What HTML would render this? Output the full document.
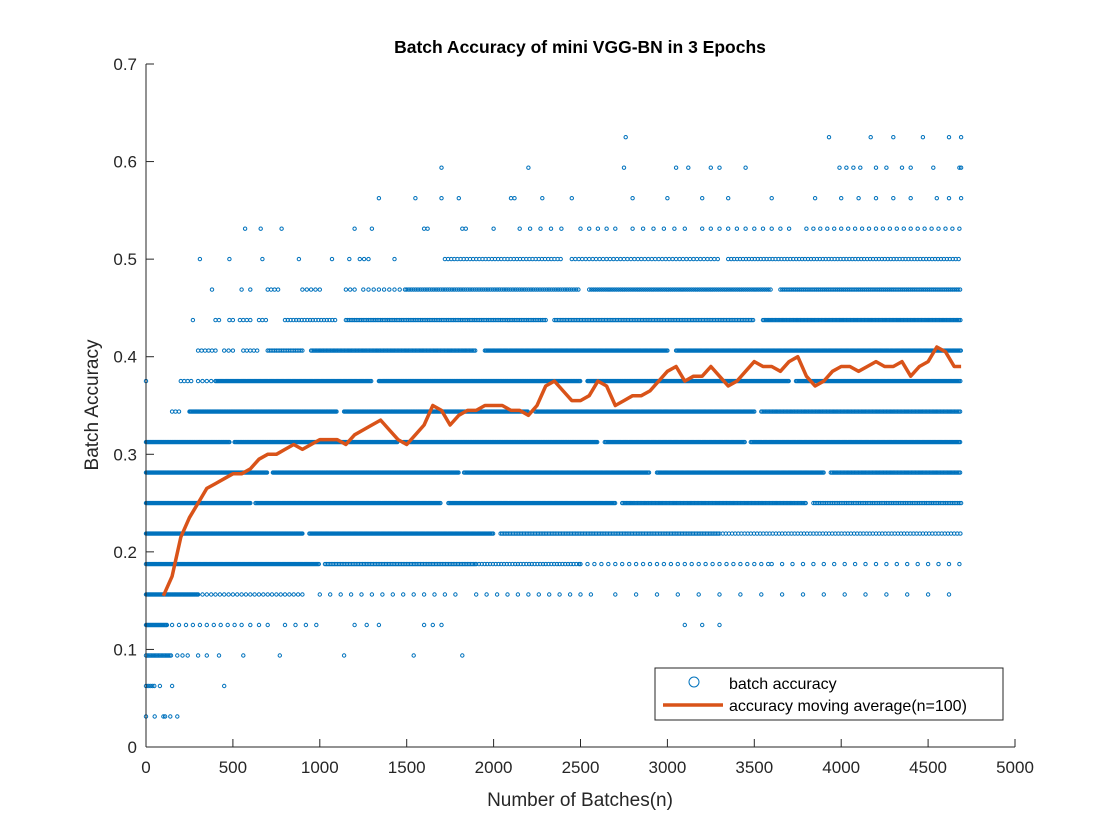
<!DOCTYPE html>
<html><head><meta charset="utf-8"><style>
body{margin:0;background:#fff}
svg{display:block;font-family:"Liberation Sans",sans-serif}
</style></head><body>
<svg id="chart" width="1120" height="840" viewBox="0 0 1120 840">
<rect x="0" y="0" width="1120" height="840" fill="#fff"/>
<g id="dots"></g>
<g id="line"></g>
<g id="axes"></g>
<text x="580" y="53" text-anchor="middle" font-size="17.5" font-weight="bold">Batch Accuracy of mini VGG-BN in 3 Epochs</text>
<text x="580" y="806" text-anchor="middle" font-size="19" fill="#262626">Number of Batches(n)</text>
<text transform="translate(98,405) rotate(-90)" text-anchor="middle" font-size="19" fill="#262626">Batch Accuracy</text>
<g>
<rect x="655" y="668" width="348" height="52" fill="#fff" stroke="#262626" stroke-width="1"/>
<circle cx="694" cy="682" r="5" fill="none" stroke="#0072BD" stroke-width="1"/>
<text x="729" y="689" font-size="16">batch accuracy</text>
<line x1="663" y1="705" x2="723" y2="705" stroke="#D95319" stroke-width="3.5"/>
<text x="729" y="711" font-size="16">accuracy moving average(n=100)</text>
</g>
</svg>
<script>
const xTicks=[0,500,1000,1500,2000,2500,3000,3500,4000,4500,5000];
const yTicks=[0,0.1,0.2,0.3,0.4,0.5,0.6,0.7];
// dot segments per accuracy level (level k => k/32): [startBatch,endBatch,stepBatches]
const levelSegments={
20:[[2760,2760,1],[3930,3930,1],[4170,4170,1],[4300,4300,1],[4470,4470,1],[4620,4620,1],[4690,4690,1]],
19:[[1700,1700,1],[2200,2200,1],[2750,2750,1],[3050,3050,1],[3120,3120,1],[3250,3250,1],[3300,3300,1],[3450,3450,1],[3990,4110,40],[4200,4260,60],[4350,4400,50],[4530,4530,1],[4680,4690,10]],
18:[[1340,1340,1],[1550,1550,1],[1700,1700,1],[1800,1800,1],[2100,2120,20],[2280,2280,1],[2450,2450,1],[2800,2800,1],[3000,3000,1],[3200,3200,1],[3350,3350,1],[3600,3600,1],[3850,3850,1],[4000,4000,1],[4100,4100,1],[4200,4400,100],[4550,4690,70]],
17:[[570,570,1],[660,660,1],[780,780,1],[1200,1200,1],[1300,1300,1],[1600,1620,20],[1820,1840,20],[2000,2000,1],[2150,2400,60],[2500,2700,50],[2800,3100,60],[3200,3450,50],[3500,3700,50],[3800,4690,40]],
16:[[310,310,1],[480,480,1],[670,670,1],[880,880,1],[1070,1070,1],[1170,1170,1],[1230,1280,25],[1430,1430,1],[1720,2400,18],[2450,3300,20],[3350,4690,17]],
15:[[380,380,1],[550,550,1],[600,600,1],[700,760,20],[900,1000,25],[1150,1200,25],[1250,1500,30],[1500,2500,13],[2550,3600,12],[3650,4690,11]],
14:[[270,270,1],[400,420,20],[480,500,20],[540,600,20],[650,700,20],[800,1100,16],[1150,2300,10],[2350,3500,9],[3550,4690,8]],
13:[[300,400,20],[450,500,25],[560,650,20],[700,900,10],[950,1900,8],[1950,3000,7],[3050,4690,7]],
12:[[0,0,1],[200,260,20],[300,400,25],[400,1300,7],[1340,2500,6],[2540,3700,6],[3740,4690,7]],
11:[[150,200,20],[250,1100,6],[1140,2200,6],[2240,3500,7],[3540,4690,8]],
10:[[0,480,6],[510,1450,6],[1480,2600,6],[2640,3450,7],[3480,4690,7]],
9:[[0,700,6],[730,1800,6],[1830,2900,7],[2940,3900,7],[3940,4690,8]],
8:[[0,600,6],[630,1700,7],[1740,2700,7],[2740,3800,8],[3840,4690,10]],
7:[[0,900,6],[940,2000,7],[2040,3300,9],[3300,4690,18]],
6:[[0,1000,7],[1030,1900,9],[1900,2500,16],[2500,3600,40],[3600,4690,60]],
5:[[0,300,6],[300,900,25],[1000,1800,60],[1900,2600,60],[2700,4690,120]],
4:[[0,120,6],[150,550,40],[600,700,50],[800,1000,60],[1200,1400,70],[1600,1700,50],[3100,3300,100]],
3:[[0,150,8],[180,250,30],[300,350,50],[420,420,1],[560,560,1],[770,770,1],[1140,1140,1],[1540,1540,1],[1820,1820,1]],
2:[[0,50,12],[80,80,1],[150,150,1],[450,450,1]],
1:[[0,0,1],[50,50,1],[100,110,10],[140,140,1],[180,180,1]]
};
const maBatches=[100,150,200,250,300,350,400,450,500,550,600,650,700,750,800,850,900,950,1000,1050,1100,1150,1200,1250,1300,1350,1400,1450,1500,1550,1600,1650,1700,1750,1800,1850,1900,1950,2000,2050,2100,2150,2200,2250,2300,2350,2400,2450,2500,2550,2600,2650,2700,2750,2800,2850,2900,2950,3000,3050,3100,3150,3200,3250,3300,3350,3400,3450,3500,3550,3600,3650,3700,3750,3800,3850,3900,3950,4000,4050,4100,4150,4200,4250,4300,4350,4400,4450,4500,4550,4600,4650,4690];
const maValues=[0.155,0.175,0.215,0.235,0.25,0.265,0.27,0.275,0.28,0.28,0.285,0.295,0.3,0.3,0.305,0.31,0.305,0.31,0.315,0.315,0.315,0.31,0.32,0.325,0.33,0.335,0.325,0.315,0.31,0.32,0.33,0.35,0.345,0.33,0.34,0.345,0.345,0.35,0.35,0.35,0.345,0.345,0.34,0.35,0.37,0.375,0.365,0.355,0.355,0.36,0.375,0.37,0.35,0.355,0.36,0.36,0.365,0.375,0.385,0.39,0.375,0.38,0.38,0.39,0.38,0.37,0.375,0.385,0.395,0.39,0.39,0.385,0.395,0.4,0.38,0.37,0.375,0.385,0.39,0.39,0.385,0.39,0.395,0.39,0.39,0.395,0.38,0.39,0.395,0.41,0.405,0.39,0.39];

const X0=146,X1=1015,Y0=747,Y1=64;
const xs=v=>X0+(v/5000)*(X1-X0);
const ys=v=>Y0-(v/0.7)*(Y0-Y1);
const NS='http://www.w3.org/2000/svg';
function mk(tag,attrs,parent){const e=document.createElementNS(NS,tag);for(const k in attrs)e.setAttribute(k,attrs[k]);parent.appendChild(e);return e;}

const dots=document.getElementById('dots');
let d='';
for(const k in levelSegments){
  const yv=ys(k/32);
  for(const s of levelSegments[k]){
    for(let b=s[0];b<=s[1];b+=s[2]){
      const x=xs(b);
      d+='M'+(x-1.7).toFixed(1)+' '+yv.toFixed(1)+'a1.7 1.7 0 1 0 3.4 0a1.7 1.7 0 1 0 -3.4 0';
    }
  }
}
const dp=mk('path',{d:d,fill:'none',stroke:'#0072BD','stroke-width':'1'},dots);



const line=document.getElementById('line');
const pts=maBatches.map((b,i)=>xs(b).toFixed(1)+','+ys(maValues[i]).toFixed(1)).join(' ');
const pl=mk('polyline',{points:pts,fill:'none',stroke:'#D95319','stroke-width':'3.5','stroke-linejoin':'round'},line);



const axes=document.getElementById('axes');
const xa=mk('line',{x1:X0,y1:Y0,x2:X1,y2:Y0,stroke:'#262626','stroke-width':'1'},axes);


const ya=mk('line',{x1:X0,y1:Y0,x2:X0,y2:Y1,stroke:'#262626','stroke-width':'1'},axes);


for(const t of xTicks){
  const x=xs(t);
  const tl=mk('line',{x1:x,y1:Y0,x2:x,y2:Y0-8,stroke:'#262626','stroke-width':'1'},axes);
  
  
  const tx=mk('text',{x:x,y:Y0+26,'text-anchor':'middle','font-size':'17',fill:'#262626'},axes);
  tx.textContent=t;
  
  
}
for(const t of yTicks){
  const y=ys(t);
  const tl=mk('line',{x1:X0,y1:y,x2:X0+8,y2:y,stroke:'#262626','stroke-width':'1'},axes);
  
  
  const tx=mk('text',{x:X0-9,y:y+6,'text-anchor':'end','font-size':'17',fill:'#262626'},axes);
  tx.textContent=String(t);
  
  
}
</script>
</body></html>
